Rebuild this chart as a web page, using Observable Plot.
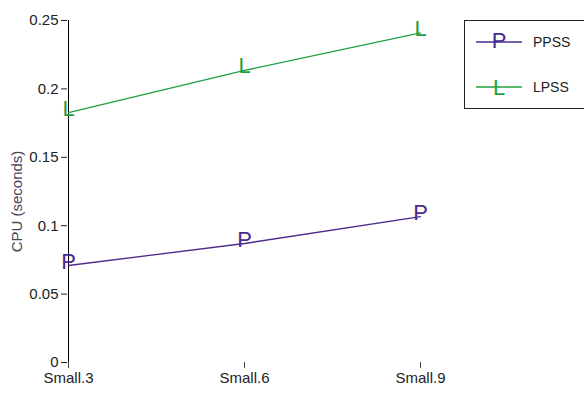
<!DOCTYPE html>
<html>
<head>
<meta charset="utf-8">
<script src="https://cdn.jsdelivr.net/npm/d3@7"></script>
<script src="https://cdn.jsdelivr.net/npm/@observablehq/plot@0.6"></script>
<style>
  body { margin: 0; background: #fff; }
  #wrap { position: relative; width: 584px; height: 393px; font-family: "Liberation Sans", Arial, sans-serif; }
  #wrap g[aria-label$="tick label"] { font-size: 15px; }
  #legend { position: absolute; left: 464px; top: 20px; width: 130px; height: 89px; border: 1px solid #222; box-sizing: border-box; background: #fff; }
  .item { position: absolute; left: 11px; display: flex; align-items: center; font-size: 14px; color: #222; }
  .item svg { margin-right: 11px; overflow: visible; }
</style>
</head>
<body>
<div id="wrap"></div>
<script>
const categories = ["Small.3", "Small.6", "Small.9"];
const seriesNames = ["PPSS", "LPSS"];
const seriesSymbols = ["P", "L"];
const seriesColors = ["#4b2a8f", "#1fa040"];
const ppss = [0.0709, 0.087, 0.1067];
const lpss = [0.1827, 0.2135, 0.241];
const yTicks = [0, 0.05, 0.1, 0.15, 0.2, 0.25];

const values = [ppss, lpss];
const data = [];
seriesNames.forEach((s, i) => categories.forEach((c, j) => data.push({series: s, cat: c, v: values[i][j], sym: seriesSymbols[i]})));

const font = '"Liberation Sans", Arial, sans-serif';
const chart = Plot.plot({
  width: 584,
  height: 393,
  marginLeft: 67,
  marginRight: 164,
  marginTop: 20,
  marginBottom: 31,
  style: {fontFamily: font, fontSize: "15px", color: "#222", background: "#fff"},
  x: {type: "point", domain: categories, padding: 0, label: null},
  y: {domain: [0, 0.25], label: null},
  color: {domain: seriesNames, range: seriesColors},
  marks: [
    Plot.axisY({ticks: yTicks, tickFormat: d => String(d), tickSize: 6, tickPadding: 3, stroke: "#222", fill: "#222"}),
    Plot.axisX({tickSize: 6, tickPadding: 4, stroke: "#444", fill: "#222"}),
    Plot.ruleX([categories[0]], {y1: 0, y2: 0.25, stroke: "#000"}),
    Plot.ruleY([0], {x1: categories[0], x2: categories[2], stroke: "#000"}),
    Plot.line(data, {x: "cat", y: "v", z: "series", stroke: "series", strokeWidth: 1.3}),
    Plot.text(data, {x: "cat", y: "v", text: "sym", fill: "series", fontSize: 22, dy: -4, fontFamily: font}),
    Plot.text(["CPU (seconds)"], {frameAnchor: "left", textAnchor: "middle", dx: -50, dy: 10, rotate: -90, fontSize: 15, fill: "#4a4656"})
  ]
});
const wrap = document.getElementById("wrap");
wrap.appendChild(chart);

const legend = document.createElement("div");
legend.id = "legend";
seriesNames.forEach((s, i) => {
  const it = document.createElement("div");
  it.className = "item";
  it.style.top = (i === 0 ? 9 : 54) + "px";
  it.innerHTML = `<svg width="46" height="24"><line x1="0" x2="46" y1="12" y2="12" stroke="${seriesColors[i]}" stroke-width="1.3"/><text x="23" y="${i === 0 ? 18 : 20}" text-anchor="middle" font-size="22" fill="${seriesColors[i]}" font-family="Liberation Sans, Arial">${seriesSymbols[i]}</text></svg><span>${s}</span>`;
  legend.appendChild(it);
});
wrap.appendChild(legend);
</script>
</body>
</html>
